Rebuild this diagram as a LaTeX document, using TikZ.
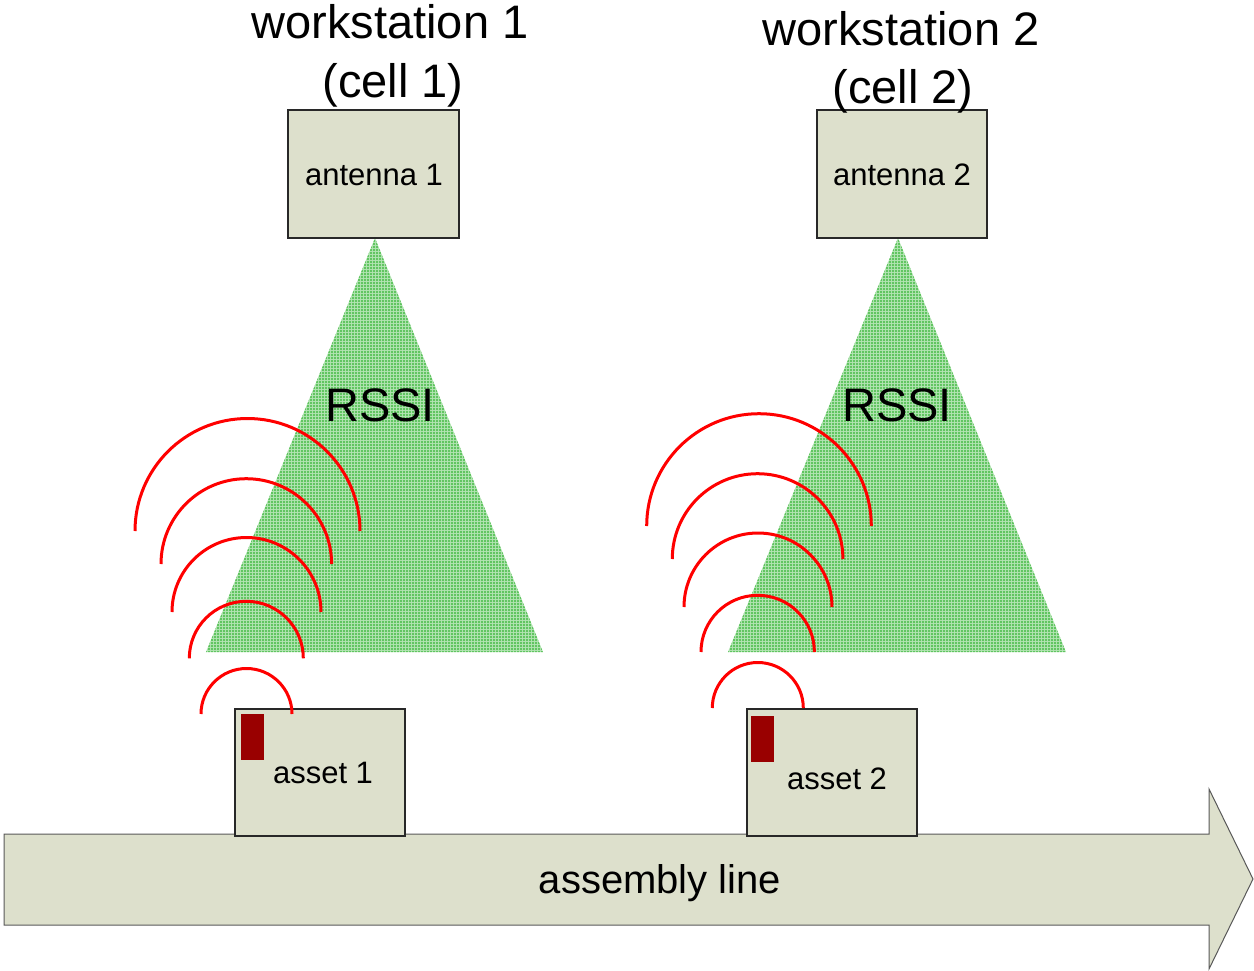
\documentclass[tikz,border=0pt]{standalone}
\usepackage{fontspec}
\setmainfont{Liberation Sans}
\usetikzlibrary{patterns.meta}

\definecolor{boxfill}{RGB}{221,224,204}
\definecolor{boxline}{RGB}{40,40,40}
\definecolor{tagred}{RGB}{153,0,0}
\definecolor{beamback}{RGB}{178,228,178}
\definecolor{beamline}{RGB}{40,175,40}

% fine square mesh used for the antenna beams
\tikzdeclarepattern{
  name=beammesh,
  type=uncolored,
  bounding box={(0,0) and (1.25pt,1.25pt)},
  tile size={(1.25pt,1.25pt)},
  code={
    \draw[line width=0.45pt] (0,0.625pt) -- (1.25pt,0.625pt);
    \draw[line width=0.45pt] (0.625pt,0) -- (0.625pt,1.25pt);
  }
}

\tikzset{
  panel/.style={draw=boxline, line width=0.6pt, fill=boxfill},
  beam/.style={fill=beamback, postaction={pattern=beammesh, pattern color=beamline}},
  wave/.style={draw=red, line width=1.5pt},
  tag/.style={fill=tagred},
  title/.style={font=\fontsize{23.5}{28}\selectfont, anchor=base},
  label/.style={font=\fontsize{15.5}{18}\selectfont},
  bigtag/.style={font=\fontsize{23.5}{28}\selectfont}
}

\begin{document}
\begin{tikzpicture}[x=0.5pt, y=-0.5pt]
\useasboundingbox (0,0) rectangle (1254,970);

% assembly line arrow
\draw[panel, line width=0.5pt, draw=black!65] (4,834) -- (1209,834) -- (1209,789) -- (1253,879)
  -- (1209,969) -- (1209,925) -- (4,925) -- cycle;
\node[font=\fontsize{20}{24}\selectfont, anchor=base] (line) at (660,893) {assembly line};

% antenna beams
\path[beam] (375,238) -- (543,652) -- (206,652) -- cycle;
\path[beam] (898,238) -- (1066,652) -- (728,652) -- cycle;
\node[bigtag] (rssi1) at (380,405) {RSSI};
\node[bigtag] (rssi2) at (897,405) {RSSI};

% antennas
\draw[panel] (288,110) rectangle (459,238);
\draw[panel] (817,110) rectangle (987,238);
\node[label] (ant1) at (374,175) {antenna 1};
\node[label] (ant2) at (902,175) {antenna 2};

% workstation titles
\node[title] (ws1) at (390,38) {workstation 1};
\node[title] (cell1) at (393,97) {(cell 1)};
\node[title] (ws2) at (901,45) {workstation 2};
\node[title] (cell2) at (903,103) {(cell 2)};

% assets with tags
\draw[panel] (235,709) rectangle (405,836);
\draw[panel] (747,709) rectangle (917,836);
\fill[tag] (241,714) rectangle (264,760);
\fill[tag] (751,716) rectangle (774,762);
\node[label] (as1) at (323,773) {asset 1};
\node[label] (as2) at (837,779) {asset 2};

% radio waves from tag 1
\draw[wave] (201,714) arc (180:360:45.5);
\draw[wave] (189.3,658.3) arc (180:360:57);
\draw[wave] (172,612) arc (180:360:74.5);
\draw[wave] (161,564) arc (180:360:85.3);
\draw[wave] (135,531) arc (180:360:112.5);

% radio waves from tag 2
\draw[wave] (712.3,708) arc (180:360:45.5);
\draw[wave] (701,652) arc (180:360:56.7);
\draw[wave] (684,607) arc (180:360:74);
\draw[wave] (672.3,559) arc (180:360:85.3);
\draw[wave] (646.7,526) arc (180:360:112.3);
\end{tikzpicture}
\end{document}
